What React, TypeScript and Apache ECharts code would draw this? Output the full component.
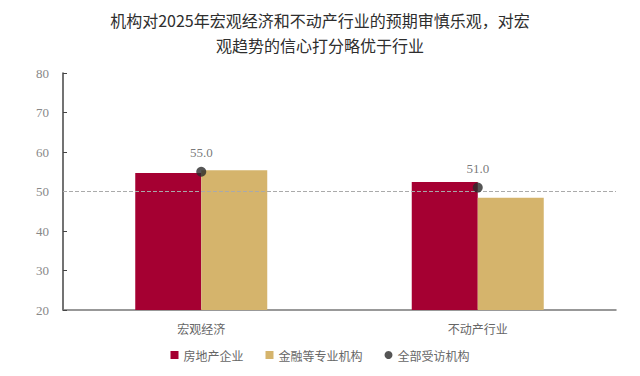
import React, { useEffect, useRef } from "react";
import * as echarts from "echarts";

const title = "机构对2025年宏观经济和不动产行业的预期审慎乐观，对宏\n观趋势的信心打分略优于行业";
const categories = ["宏观经济", "不动产行业"];
const realEstate = [54.7, 52.4];
const financial = [55.4, 48.4];
const allRespondents = [55.0, 51.0];
const yTicks = { min: 20, max: 80, interval: 10 };
const threshold = 50;

export default function App() {
  const ref = useRef<HTMLDivElement>(null);
  useEffect(() => {
    const chart = echarts.init(ref.current!, null, { renderer: "svg" });
    const cjk = "'Noto Sans CJK SC', sans-serif";
    const serif = "'Liberation Serif', 'DejaVu Serif', serif";
    chart.setOption({
      animation: false,
      backgroundColor: "#fff",
      title: {
        text: title,
        left: "center",
        top: 2,
        textStyle: { fontFamily: cjk, fontSize: 16, fontWeight: "normal", color: "#2e2e2e", lineHeight: 25 },
      },
      legend: {
        bottom: 10,
        left: "center",
        itemWidth: 8,
        itemHeight: 8,
        itemGap: 22,
        textStyle: { fontFamily: cjk, fontSize: 12, color: "#666" },
        data: [
          { name: "房地产企业", icon: "rect" },
          { name: "金融等专业机构", icon: "rect" },
          { name: "全部受访机构", icon: "circle" },
        ],
      },
      grid: { left: 63, right: 24, top: 73, bottom: 66 },
      xAxis: {
        type: "category",
        data: categories,
        axisLine: { lineStyle: { color: "#777", width: 1.5 } },
        axisTick: { show: false },
        axisLabel: { fontFamily: cjk, fontSize: 12, color: "#666", margin: 12 },
      },
      yAxis: {
        type: "value",
        min: yTicks.min,
        max: yTicks.max,
        interval: yTicks.interval,
        axisLine: { show: true, lineStyle: { color: "#444", width: 1.5 } },
        axisTick: { show: true, inside: true, length: 4, lineStyle: { color: "#444" } },
        splitLine: { show: false },
        axisLabel: { fontFamily: serif, fontSize: 13, color: "#888", margin: 14 },
      },
      series: [
        {
          name: "房地产企业",
          type: "bar",
          data: realEstate,
          barWidth: 66,
          barGap: "0%",
          itemStyle: { color: "#A50032" },
          markLine: {
            silent: true,
            symbol: "none",
            label: { show: false },
            lineStyle: { type: "dashed", color: "#aaa", width: 1 },
            data: [{ yAxis: threshold }],
          },
        },
        {
          name: "金融等专业机构",
          type: "bar",
          data: financial,
          barWidth: 66,
          barGap: "0%",
          itemStyle: { color: "#D5B46C" },
        },
        {
          name: "全部受访机构",
          type: "scatter",
          data: allRespondents,
          symbolSize: 10,
          itemStyle: { color: "#2b2b2b" },
          z: 5,
          label: {
            show: true,
            position: "top",
            distance: 8,
            formatter: (p: any) => p.value.toFixed(1),
            fontFamily: serif,
            fontSize: 13,
            color: "#555",
          },
        },
      ],
    });
    return () => chart.dispose();
  }, []);
  return <div ref={ref} style={{ position: "fixed", left: 0, top: 0, width: 640, height: 376 }} />;
}
